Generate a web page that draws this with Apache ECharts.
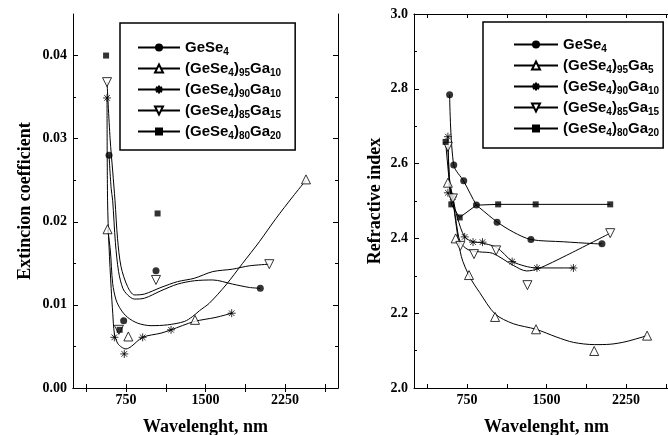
<!DOCTYPE html>
<html><head><meta charset="utf-8">
<script src="https://cdn.jsdelivr.net/npm/echarts/dist/echarts.min.js"></script>
<style>html,body{margin:0;padding:0;background:#fff}#c{width:668px;height:435px}</style>
</head><body><div id="c"></div>
<script>
// ---------- tick / label values ----------
const xTickValues = [375, 750, 1125, 1500, 1875, 2250, 2625];
const xLabelValues = [750, 1500, 2250];
const kMajor = [0, 0.01, 0.02, 0.03, 0.04];
const kMinor = [0.005, 0.015, 0.025, 0.035];
const nMajor = [2.0, 2.2, 2.4, 2.6, 2.8, 3.0];
const nMinor = [2.1, 2.3, 2.5, 2.7, 2.9];

// ---------- left chart: extinction coefficient ----------
const leftNames = ['k:GeSe4', 'k:(GeSe4)95Ga10', 'k:(GeSe4)90Ga10', 'k:(GeSe4)85Ga15', 'k:(GeSe4)80Ga20'];
const kGeSe4Pts = [[590,0.028],[728,0.0081],[1033,0.0141],[2017,0.0120]];
const kGa95Pts = [[576,0.0191],[772,0.0062],[1401,0.0082],[2448,0.0251]];
const kGa90Pts = [[571,0.0349],[640,0.0061],[734,0.0041],[907,0.0061],[1175,0.0070],[1747,0.0090]];
const kGa85Pts = [[571,0.0368],[683,0.0070],[1033,0.0130],[2102,0.0149]];
const kGa80Pts = [[562,0.0400],[690,0.0070],[1048,0.0210]];

const kGeSe4Curve = [[590,0.028],[610,0.024],[624,0.0226],[650,0.0175],[680,0.0140],[720,0.0120],[765,0.0112],[829,0.0107],[923,0.0108],[1080,0.0117],[1237,0.0125],[1394,0.0129],[1567,0.0130],[1756,0.0125],[1913,0.0121],[2017,0.0120]];
const kGa95Curve = [[576,0.0191],[602,0.0166],[624,0.0126],[656,0.0106],[703,0.0094],[765,0.0085],[860,0.0078],[986,0.0075],[1143,0.0076],[1300,0.0080],[1378,0.0086],[1443,0.0093],[1536,0.0102],[1693,0.0124],[1850,0.0150],[2008,0.0176],[2165,0.0204],[2322,0.0230],[2448,0.0250]];
const kGa90Curve = [[571,0.0349],[576,0.0226],[590,0.0170],[610,0.0120],[625,0.0090],[640,0.0066],[670,0.0054],[710,0.0049],[750,0.0047],[800,0.0050],[907,0.0061],[1080,0.0066],[1175,0.0070],[1394,0.0080],[1599,0.0085],[1747,0.0090]];
const kGa85Curve = [[571,0.0368],[600,0.0300],[625,0.0260],[646,0.0226],[670,0.0180],[703,0.0146],[765,0.0122],[829,0.0112],[923,0.0113],[1080,0.0121],[1237,0.0128],[1394,0.0132],[1567,0.0140],[1756,0.0143],[1913,0.0147],[2102,0.0149]];

// ---------- right chart: refractive index ----------
const rightNames = ['n:GeSe4', 'n:(GeSe4)95Ga5', 'n:(GeSe4)90Ga10', 'n:(GeSe4)85Ga15', 'n:(GeSe4)80Ga20'];
const nGeSe4Pts = [[586,2.784],[625,2.596],[719,2.554],[839,2.489],[1034,2.443],[1353,2.397],[2023,2.386]];
const nGa95Pts = [[570,2.549],[643,2.400],[769,2.302],[1015,2.190],[1401,2.157],[1950,2.099],[2449,2.140]];
const nGa90Pts = [[570,2.672],[570,2.522],[617,2.511],[728,2.404],[807,2.390],[896,2.390],[1176,2.338],[1410,2.321],[1754,2.321]];
const nGa85Pts = [[570,2.645],[617,2.507],[687,2.380],[816,2.358],[1025,2.368],[1320,2.275],[2101,2.414]];
const nGa80Pts = [[548,2.658],[602,2.491],[681,2.456],[1044,2.491],[1398,2.491],[2101,2.491]];

const nGeSe4Curve = [[586,2.784],[625,2.596],[719,2.553],[839,2.489],[868,2.482],[1034,2.444],[1186,2.417],[1353,2.397],[1659,2.391],[1944,2.386],[2023,2.385]];
const nGa95Curve = [[570,2.549],[600,2.525],[617,2.502],[650,2.431],[697,2.351],[776,2.297],[870,2.255],[1015,2.198],[1186,2.172],[1401,2.157],[1597,2.136],[1754,2.122],[1950,2.116],[2100,2.117],[2250,2.124],[2449,2.140]];
const nGa90Curve = [[570,2.672],[580,2.580],[595,2.520],[617,2.505],[660,2.455],[728,2.404],[807,2.391],[868,2.389],[1028,2.376],[1176,2.339],[1296,2.326],[1407,2.321],[1754,2.321]];
const nGa85Curve = [[570,2.645],[585,2.560],[617,2.505],[650,2.440],[687,2.390],[760,2.370],[868,2.364],[993,2.360],[1186,2.328],[1312,2.313],[1422,2.319],[1691,2.355],[2101,2.414]];
const nGa80Line = [[548,2.658],[602,2.491],[681,2.456],[839,2.489],[1044,2.491],[1398,2.491],[2101,2.491]];

// ---------- styles ----------
const SERIF = 'Liberation Serif';
const SANS = 'Liberation Sans';
const STAR = 'path://M5,0L5,10M0,5L10,5M1.5,1.5L8.5,8.5M8.5,1.5L1.5,8.5';
const markers = [
  {symbol:'circle', size:7, rotate:0, item:{color:'#000', borderColor:'#000', borderWidth:0}},
  {symbol:'triangle', size:9, rotate:0, item:{color:'#fff', borderColor:'#000', borderWidth:1}},
  {symbol:STAR, size:8, rotate:0, item:{color:'none', borderColor:'#000', borderWidth:1}},
  {symbol:'triangle', size:9, rotate:180, item:{color:'#fff', borderColor:'#000', borderWidth:1}},
  {symbol:'rect', size:6, rotate:0, item:{color:'#000', borderColor:'#000', borderWidth:0}}
];

function curveSeries(name, data, m, xi, yi, smooth) {
  return {type:'line', name, data, xAxisIndex:xi, yAxisIndex:yi, smooth,
    showSymbol:false, symbol:m.symbol, symbolSize:m.size, symbolRotate:m.rotate,
    itemStyle:m.item, lineStyle:{color:'#000', width:1}, silent:true, z:2};
}
function pointSeries(name, data, m, xi, yi) {
  return {type:'scatter', name, data, xAxisIndex:xi, yAxisIndex:yi,
    symbol:m.symbol, symbolSize:m.size, symbolRotate:m.rotate, itemStyle:m.item, silent:true, z:3};
}

const axisLine = {show:true, lineStyle:{color:'#000', width:1}};
const labelStyle = {fontFamily:SERIF, fontWeight:'bold', fontSize:14, color:'#000'};
const nameStyle = {fontFamily:SERIF, fontWeight:'bold', fontSize:18, color:'#000'};

function xAxes(grid) {
  return [
    {gridIndex:grid, type:'value', position:'bottom', min:250, max:2750,
     axisLine, splitLine:{show:false},
     axisTick:{show:true, inside:true, length:4, customValues:xTickValues, lineStyle:{color:'#000'}},
     axisLabel:Object.assign({customValues:xLabelValues, margin:5, formatter:v => String(v)}, labelStyle),
     name:'Wavelenght, nm', nameLocation:'middle', nameGap:30, nameTextStyle:nameStyle},
    {gridIndex:grid, type:'value', position:'top', min:250, max:2750,
     axisLine, splitLine:{show:false},
     axisTick:{show:true, inside:true, length:4, customValues:xTickValues, lineStyle:{color:'#000'}},
     axisLabel:{show:false}}
  ];
}
function yAxes(grid, min, max, major, minor, digits, name, gap) {
  const base = {gridIndex:grid, type:'value', min, max, splitLine:{show:false}};
  return [
    Object.assign({}, base, {position:'left', axisLine,
      axisTick:{show:true, inside:true, length:5, customValues:major, lineStyle:{color:'#000'}},
      axisLabel:Object.assign({customValues:major, margin:6, formatter:v => v.toFixed(digits)}, labelStyle),
      name, nameLocation:'middle', nameGap:gap, nameTextStyle:nameStyle}),
    Object.assign({}, base, {position:'left', axisLine:{show:false},
      axisTick:{show:true, inside:true, length:3, customValues:minor, lineStyle:{color:'#000'}},
      axisLabel:{show:false}}),
    Object.assign({}, base, {position:'right', axisLine,
      axisTick:{show:true, inside:true, length:5, customValues:major, lineStyle:{color:'#000'}},
      axisLabel:{show:false}}),
    Object.assign({}, base, {position:'right', axisLine:{show:false},
      axisTick:{show:true, inside:true, length:3, customValues:minor, lineStyle:{color:'#000'}},
      axisLabel:{show:false}})
  ];
}

function legendFmt(name) {
  const t = name.slice(2).replace(/(\d+)/g, '}{s|$1}{n|');
  return ('{n|' + t + '}').replace(/\{n\|\}/g, '');
}
const legendRich = {
  n:{fontFamily:SANS, fontWeight:'bold', fontSize:15, color:'#000'},
  s:{fontFamily:SANS, fontWeight:'bold', fontSize:10, color:'#000', padding:[9,0,0,0]}
};

const series = [];
const kPts = [kGeSe4Pts, kGa95Pts, kGa90Pts, kGa85Pts, kGa80Pts];
const kCurves = [kGeSe4Curve, kGa95Curve, kGa90Curve, kGa85Curve, null];
leftNames.forEach((nm, i) => {
  series.push(curveSeries(nm, kCurves[i] || [], markers[i], 0, 0, 0.3));
});
leftNames.forEach((nm, i) => { series.push(pointSeries(nm + ' pts', kPts[i], markers[i], 0, 0)); });

const nPts = [nGeSe4Pts, nGa95Pts, nGa90Pts, nGa85Pts, nGa80Pts];
const nCurves = [nGeSe4Curve, nGa95Curve, nGa90Curve, nGa85Curve, nGa80Line];
rightNames.forEach((nm, i) => {
  series.push(curveSeries(nm, nCurves[i], markers[i], 2, 4, i === 4 ? false : 0.3));
});
rightNames.forEach((nm, i) => { series.push(pointSeries(nm + ' pts', nPts[i], markers[i], 2, 4)); });

const chart = echarts.init(document.getElementById('c'), null, {renderer:'canvas'});
chart.setOption({
  animation:false,
  backgroundColor:'#fff',
  grid:[
    {left:73, top:14, width:265, height:374, outerBoundsMode:'none', containLabel:false},
    {left:414, top:14, width:265, height:374, outerBoundsMode:'none', containLabel:false}
  ],
  xAxis:[...xAxes(0), ...xAxes(1)],
  yAxis:[
    ...yAxes(0, 0, 0.045, kMajor, kMinor, 2, 'Extincion coefficient', 39),
    ...yAxes(1, 2.0, 3.0, nMajor, nMinor, 1, 'Refractive index', 30)
  ],
  legend:[
    {data:leftNames, orient:'vertical', left:120, top:23, itemWidth:42, itemHeight:10, itemGap:4,
     padding:[17,14,9,17], borderColor:'#000', borderWidth:1.5, backgroundColor:'#fff',
     formatter:legendFmt, textStyle:{rich:legendRich}, selectedMode:false},
    {data:rightNames, orient:'vertical', left:483, top:22, itemWidth:44, itemHeight:10, itemGap:4,
     padding:[15,4,10,30], borderColor:'#000', borderWidth:1.5, backgroundColor:'#fff',
     formatter:legendFmt, textStyle:{rich:legendRich}, selectedMode:false}
  ],
  series
});
</script></body></html>
